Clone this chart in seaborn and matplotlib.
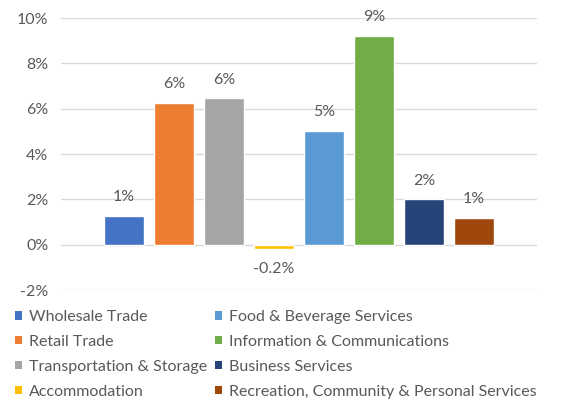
import matplotlib
matplotlib.use("Agg")
import matplotlib.pyplot as plt
import seaborn as sns
import pandas as pd
from matplotlib.patches import Patch
from matplotlib.ticker import FuncFormatter

categories = ["Wholesale Trade", "Retail Trade", "Transportation & Storage", "Accommodation",
              "Food & Beverage Services", "Information & Communications", "Business Services",
              "Recreation, Community & Personal Services"]
values = [1.28, 6.25, 6.45, -0.17, 5.02, 9.2, 2.0, 1.17]
colors = ["#4472C4", "#ED7D31", "#A5A5A5", "#FFC000", "#5B9BD5", "#70AD47", "#264478", "#9E480E"]
yticks = [-2, 0, 2, 4, 6, 8, 10]

sns.set_theme(style="white")
plt.rcParams["font.family"] = ["Lato", "DejaVu Sans"]
txt = "#595959"

df = pd.DataFrame({"cat": categories, "val": values})
fig = plt.figure(figsize=(5.65, 4.03), dpi=100)
ax = fig.add_axes([61/565, 1-290/403, (537-61)/565, (290-18)/403])
sns.barplot(data=df, x="cat", y="val", hue="cat", palette=colors, width=0.79,
            dodge=False, legend=False, ax=ax, saturation=1, zorder=3)
ax.set_xlim(-1.26, 8.26)
ax.set_ylim(-2, 10)
ax.set_yticks(yticks)
ax.yaxis.set_major_formatter(FuncFormatter(lambda v, p: f"{v:.0f}%"))
ax.tick_params(axis="y", labelsize=11.5, colors=txt, length=0, pad=9)
ax.set_xticks([])
ax.set_xlabel("")
ax.set_ylabel("")
for s in ax.spines.values():
    s.set_visible(False)
ax.grid(axis="y", color="#D9D9D9", linewidth=1, zorder=0)

for i, v in enumerate(values):
    lab = f"{v:.1f}%" if abs(v) < 0.5 else f"{v:.0f}%"
    if v >= 0:
        ax.annotate(lab, (i, v), xytext=(0, 8.5), textcoords="offset points",
                    ha="center", va="bottom", fontsize=11.5, color=txt)
    else:
        ax.annotate(lab, (i, v), xytext=(0, -9.5), textcoords="offset points",
                    ha="center", va="top", fontsize=11.5, color=txt)

handles = [Patch(facecolor=c, edgecolor="none") for c in colors]
common = dict(frameon=False, fontsize=11.5, handlelength=0.45, handleheight=0.45,
              handletextpad=0.45, labelspacing=0.68, labelcolor=txt, borderpad=0,
              borderaxespad=0)
fig.legend(handles[:4], categories[:4], loc="upper left",
           bbox_to_anchor=(15/565, 1-310/403), **common)
fig.legend(handles[4:], categories[4:], loc="upper left",
           bbox_to_anchor=(215/565, 1-310/403), **common)

fig.savefig("out.png", dpi=100)
